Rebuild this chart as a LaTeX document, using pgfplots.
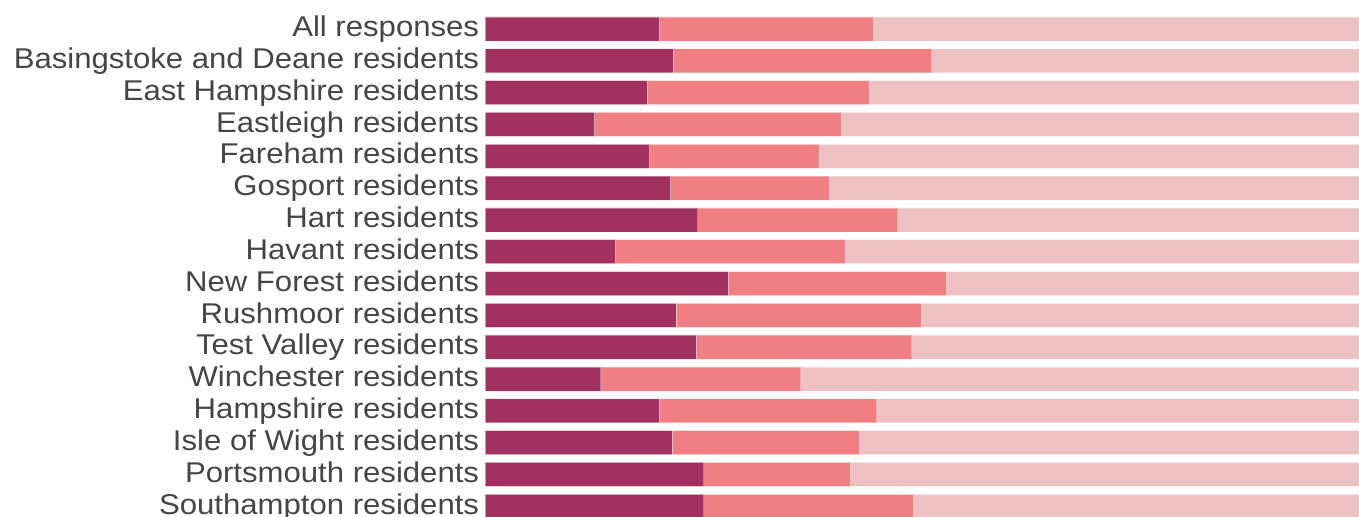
\documentclass[border=0pt]{standalone}
\usepackage{pgfplots}
\pgfplotsset{compat=1.18}
\usepackage{fontspec}
\setmainfont[FakeStretch=1.088]{Liberation Sans}
\definecolor{cA}{HTML}{A03160}
\definecolor{cB}{HTML}{F07E82}
\definecolor{cC}{HTML}{EDC1C1}
\definecolor{lab}{HTML}{454545}
\begin{document}
\begin{tikzpicture}
\begin{axis}[
  at={(0,0)}, anchor=south west,
  scale only axis, width=436.75pt, height=258.5pt,
  xbar stacked, bar width=12pt,
  xmin=0, xmax=100,
  ymin=-0.911, ymax=15.336,
  y dir=reverse,
  axis line style={draw=none},
  major tick length=0pt,
  xtick=\empty,
  ytick={0,...,15},
  yticklabels={All responses,Basingstoke and Deane residents,East Hampshire residents,Eastleigh residents,Fareham residents,Gosport residents,Hart residents,Havant residents,New Forest residents,Rushmoor residents,Test Valley residents,Winchester residents,Hampshire residents,Isle of Wight residents,Portsmouth residents,Southampton residents},
  yticklabel style={font=\fontsize{14.3pt}{16pt}\selectfont, text=lab, inner sep=0pt, anchor=base east, xshift=-3pt, yshift=-3.85pt},
  every axis plot/.append style={draw=white, draw opacity=0.35, line width=0.4pt},
]
\addplot[fill=cA] coordinates {
(19.9,0) (21.5,1) (18.5,2) (12.5,3) (18.8,4) (21.2,5) (24.3,6) (14.9,7)
(27.8,8) (21.8,9) (24.1,10) (13.2,11) (19.9,12) (21.4,13) (25.0,14) (25.0,15)};
\addplot[fill=cB] coordinates {
(24.5,0) (29.6,1) (25.4,2) (28.2,3) (19.4,4) (18.2,5) (22.9,6) (26.3,7)
(25.0,8) (28.1,9) (24.7,10) (22.9,11) (24.9,12) (21.4,13) (16.8,14) (24.0,15)};
\addplot[fill=cC] coordinates {
(55.6,0) (48.9,1) (56.1,2) (59.3,3) (61.8,4) (60.6,5) (52.8,6) (58.8,7)
(47.2,8) (50.1,9) (51.2,10) (63.9,11) (55.2,12) (57.2,13) (58.2,14) (51.0,15)};
\end{axis}
\pgfresetboundingbox
\path (-242.75pt,0pt) rectangle (436.75pt,258.5pt);
\end{tikzpicture}
\end{document}
